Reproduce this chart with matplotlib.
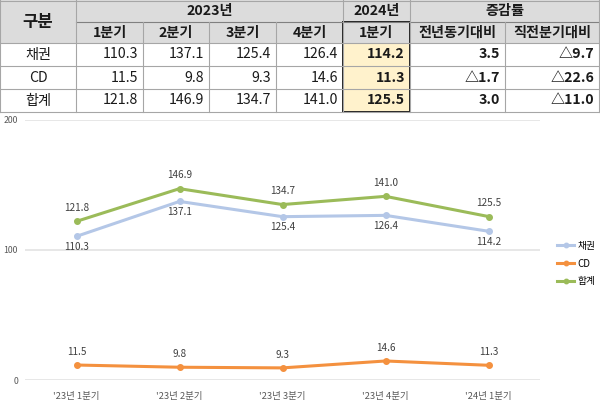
import matplotlib
matplotlib.use("Agg")
import matplotlib.pyplot as plt
from matplotlib.patches import Rectangle

plt.rcParams['font.family'] = ['Noto Sans CJK KR', 'DejaVu Sans']

# -----------------------------
# Data
# -----------------------------
quarters = ["1분기", "2분기", "3분기", "4분기", "1분기"]
axis_labels = ["'23년 1분기", "'23년 2분기", "'23년 3분기", "'23년 4분기", "'24년 1분기"]
series_names = ["채권", "CD", "합계"]
bonds = [110.3, 137.1, 125.4, 126.4, 114.2]
cd = [11.5, 9.8, 9.3, 14.6, 11.3]
total = [121.8, 146.9, 134.7, 141.0, 125.5]
yoy = [3.5, -1.7, 3.0]
qoq = [-9.7, -22.6, -11.0]


def fmt_change(v):
    return f"△{abs(v):.1f}" if v < 0 else f"{v:.1f}"


fig = plt.figure(figsize=(6, 4.07), dpi=100)

# -----------------------------
# Table (pixel coords)
# -----------------------------
ax_t = fig.add_axes([0, 0, 1, 1])
ax_t.set_xlim(0, 600)
ax_t.set_ylim(407, 0)
ax_t.axis("off")

cols = [0, 76, 143, 209, 276, 343, 410, 505, 599]
rows = [0, 22, 43, 66, 89, 112]
head_bg = "#dcdcdc"
yellow = "#fff2cc"
line_c = "#a6a6a6"

ax_t.add_patch(Rectangle((0, 0), 599, 43, facecolor=head_bg, edgecolor="none"))
ax_t.add_patch(Rectangle((343, 43), 67, 69, facecolor=yellow, edgecolor="none"))

# horizontal lines
ax_t.plot([0, 599], [0.5, 0.5], color=line_c, lw=0.8)
ax_t.plot([76, 599], [22, 22], color="#808080", lw=0.8)
for y in rows[2:]:
    ax_t.plot([0, 599], [y, y], color=line_c, lw=0.8)
# vertical lines
for i, x in enumerate(cols):
    if i in (2, 3, 4, 7):
        ax_t.plot([x, x], [22, 112], color=line_c, lw=0.8)
    else:
        ax_t.plot([x, x], [0, 112], color=line_c, lw=0.8)
# thick box around latest quarter
ax_t.add_patch(Rectangle((343, 22), 67, 90, facecolor="none", edgecolor="#222222", lw=1.4))

tc = "#1a1a1a"
fs = 10.2
ax_t.text(38, 22, "구분", ha="center", va="center", fontsize=12, fontweight="bold", color=tc)
ax_t.text(209.5, 11, "2023년", ha="center", va="center", fontsize=fs, fontweight="bold", color=tc)
ax_t.text(376.5, 11, "2024년", ha="center", va="center", fontsize=fs, fontweight="bold", color=tc)
ax_t.text(504.5, 11, "증감률", ha="center", va="center", fontsize=fs, fontweight="bold", color=tc)
for i, q in enumerate(quarters):
    ax_t.text((cols[i + 1] + cols[i + 2]) / 2, 32.5, q, ha="center", va="center",
              fontsize=fs, fontweight="bold", color=tc)
ax_t.text(457.5, 32.5, "전년동기대비", ha="center", va="center", fontsize=fs, fontweight="bold", color=tc)
ax_t.text(552, 32.5, "직전분기대비", ha="center", va="center", fontsize=fs, fontweight="bold", color=tc)

for r, vals in enumerate([bonds, cd, total]):
    yc = (rows[r + 2] + rows[r + 3]) / 2
    ax_t.text(38, yc, series_names[r], ha="center", va="center", fontsize=fs, color=tc)
    for i, v in enumerate(vals):
        ax_t.text(cols[i + 2] - 5, yc, f"{v:.1f}", ha="right", va="center", fontsize=fs,
                  color=tc, fontweight="bold" if i == 4 else "normal")
    ax_t.text(cols[7] - 5, yc, fmt_change(yoy[r]), ha="right", va="center", fontsize=fs,
              fontweight="bold", color=tc)
    ax_t.text(cols[8] - 5, yc, fmt_change(qoq[r]), ha="right", va="center", fontsize=fs,
              fontweight="bold", color=tc)

# -----------------------------
# Line chart
# -----------------------------
ax = fig.add_axes([25 / 600, 1 - 380 / 407, 515 / 600, 260.5 / 407])
x = list(range(len(axis_labels)))
colors = ["#b4c7e7", "#f4913f", "#9bbb59"]
for vals, name, c in zip([bonds, cd, total], series_names, colors):
    ax.plot(x, vals, color=c, lw=2.2, marker="o", markersize=4, label=name)

lab_c = "#404040"
for i in x:
    ax.annotate(f"{total[i]:.1f}", (i, total[i]), xytext=(0, 6), textcoords="offset points",
                ha="center", va="bottom", fontsize=7.2, color=lab_c)
    ax.annotate(f"{bonds[i]:.1f}", (i, bonds[i]), xytext=(0, -4), textcoords="offset points",
                ha="center", va="top", fontsize=7.2, color=lab_c)
    ax.annotate(f"{cd[i]:.1f}", (i, cd[i]), xytext=(0, 6), textcoords="offset points",
                ha="center", va="bottom", fontsize=7.2, color=lab_c)

ax.set_xlim(-0.5, 4.5)
ax.set_ylim(0, 200)
ax.set_yticks([0, 100, 200])
ax.set_xticks(x)
ax.set_xticklabels(axis_labels)
ax.tick_params(axis="both", length=0, labelsize=6.8, labelcolor="#595959")
ax.tick_params(axis="y", pad=5, labelsize=6.3)
ax.tick_params(axis="x", pad=9)
ax.grid(axis="y", color="#e3e3e3", lw=1.2)
ax.set_axisbelow(True)
for s in ax.spines.values():
    s.set_visible(False)
ax.patch.set_alpha(0)

ax.legend(loc="upper left", bbox_to_anchor=(548 / 600, 1 - 232 / 407), bbox_transform=fig.transFigure,
          frameon=False, fontsize=7, handlelength=1.8, handletextpad=0.3, labelspacing=0.8,
          markerscale=0.8)

plt.savefig("out.png", dpi=100)
